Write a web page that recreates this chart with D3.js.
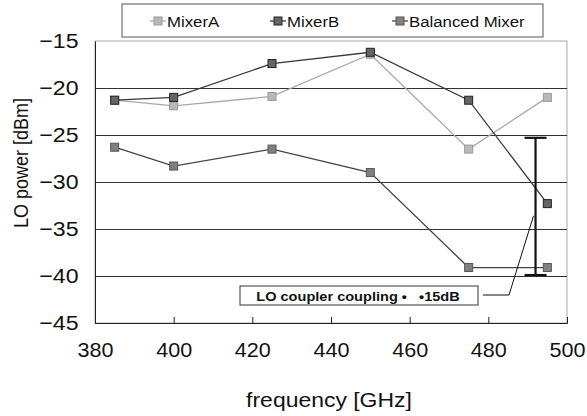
<!DOCTYPE html>
<html>
<head>
<meta charset="UTF-8">
<script src="https://d3js.org/d3.v7.min.js"></script>
<style>
  body { margin: 0; background: #fff; }
  svg { display: block; font-family: "Liberation Sans", Arial, sans-serif; }
</style>
</head>
<body>
<svg id="chart" width="587" height="416"></svg>
<script>
// data
const freqs = [385, 400, 425, 450, 475, 495];
const mixerA = [-21.3, -21.9, -20.9, -16.4, -26.5, -21.0];
const mixerB = [-21.3, -21.0, -17.4, -16.2, -21.3, -32.3];
const balanced = [-26.3, -28.3, -26.5, -29.0, -39.1, -39.1];
const xTicks = [380, 400, 420, 440, 460, 480, 500];
const yTicks = [-15, -20, -25, -30, -35, -40, -45];
const couplerRange = { freq: 492, top: -25.3, bottom: -39.9 };

const series = [
  { name: "MixerA", values: mixerA, line: "#a8a8a8", fill: "#b8b8b8", stroke: "#999" },
  { name: "MixerB", values: mixerB, line: "#3a3a3a", fill: "#666", stroke: "#222" },
  { name: "Balanced Mixer", values: balanced, line: "#444", fill: "#808080", stroke: "#555" }
];

// the scan is a bit wider than tall, so text gets a small horizontal stretch
const stretch = 1.12;

const svg = d3.select("#chart");
const plotL = 95, plotR = 567, plotT = 41, plotB = 323;

const x = d3.scaleLinear().domain([380, 500]).range([plotL, plotR]);
const y = d3.scaleLinear().domain([-45, -15]).range([plotB, plotT]);

// plot frame
svg.append("rect").attr("x", plotL).attr("y", plotT)
  .attr("width", plotR - plotL).attr("height", plotB - plotT)
  .attr("fill", "none").attr("stroke", "#aaa").attr("stroke-width", 1);

// horizontal gridlines
svg.append("g").selectAll("line")
  .data(yTicks.filter(d => d > -45 && d < -15))
  .join("line")
  .attr("x1", plotL).attr("x2", plotR)
  .attr("y1", d => y(d) + 0.5).attr("y2", d => y(d) + 0.5)
  .attr("stroke", "#333").attr("stroke-width", 1);

// axes
svg.append("g")
  .attr("transform", `translate(0,${plotB})`)
  .call(d3.axisBottom(x).tickValues(xTicks).tickSize(-6).tickPadding(20).tickFormat(d3.format("d")))
  .call(g => g.select(".domain").attr("stroke", "#222"))
  .call(g => g.selectAll(".tick line").attr("stroke", "#222"))
  .call(g => g.selectAll("text").attr("font-size", 20).attr("fill", "#111")
    .attr("font-family", "Liberation Sans, Arial, sans-serif")
    .attr("transform", "scale(1.08,1)"));

svg.append("g")
  .attr("transform", `translate(${plotL},0)`)
  .call(d3.axisLeft(y).tickValues(yTicks).tickSize(0).tickPadding(15).tickFormat(d3.format("d")))
  .call(g => g.select(".domain").attr("stroke", "#222"))
  .call(g => g.selectAll("text").attr("font-size", 21).attr("fill", "#111")
    .attr("font-family", "Liberation Sans, Arial, sans-serif")
    .attr("transform", "scale(1.1,1)"));

// axis titles
svg.append("text")
  .attr("transform", `translate(329,407) scale(${stretch},1)`)
  .attr("text-anchor", "middle").attr("font-size", 20.5).attr("fill", "#111")
  .text("frequency [GHz]");
svg.append("text")
  .attr("transform", `translate(28,163) rotate(-90) scale(1,${stretch})`)
  .attr("text-anchor", "middle").attr("font-size", 18).attr("fill", "#111")
  .text("LO power [dBm]");

// lines and markers
const line = d3.line().x((d, i) => x(freqs[i])).y(d => y(d));
series.forEach(s => {
  svg.append("path").datum(s.values)
    .attr("d", line).attr("fill", "none")
    .attr("stroke", s.line).attr("stroke-width", 1.3);
  svg.append("g").selectAll("rect")
    .data(s.values).join("rect")
    .attr("x", (d, i) => x(freqs[i]) - 4).attr("y", d => y(d) - 4)
    .attr("width", 8).attr("height", 8)
    .attr("fill", s.fill).attr("stroke", s.stroke).attr("stroke-width", 1);
});

// coupler range bar
const cx = x(couplerRange.freq);
const bar = svg.append("g").attr("stroke", "#111").attr("stroke-width", 2.2);
bar.append("line").attr("x1", cx).attr("x2", cx)
  .attr("y1", y(couplerRange.top)).attr("y2", y(couplerRange.bottom));
[couplerRange.top, couplerRange.bottom].forEach(v => {
  bar.append("line").attr("x1", cx - 11).attr("x2", cx + 11)
    .attr("y1", y(v)).attr("y2", y(v));
});

// annotation box + leader
svg.append("rect").attr("x", 240).attr("y", 286).attr("width", 238).attr("height", 19)
  .attr("fill", "#fff").attr("stroke", "#333").attr("stroke-width", 1);
svg.append("text")
  .attr("transform", `translate(358,301) scale(${stretch},1)`)
  .attr("text-anchor", "middle").attr("font-size", 13).attr("font-weight", "bold")
  .attr("fill", "#111").text("LO coupler coupling \u2022\u00a0\u00a0\u00a0\u202215dB");
svg.append("polyline")
  .attr("points", `483,295 509,295 ${cx - 2},${y(-33.6)}`)
  .attr("fill", "none").attr("stroke", "#111").attr("stroke-width", 1);

// legend
svg.append("rect").attr("x", 122).attr("y", 4).attr("width", 421).attr("height", 33)
  .attr("fill", "#fff").attr("stroke", "#555").attr("stroke-width", 1);
const legendX = [150, 270, 392];
series.forEach((s, i) => {
  const g = svg.append("g").attr("transform", `translate(${legendX[i]},21)`);
  g.append("line").attr("x1", 0).attr("x2", 16).attr("stroke", s.line).attr("stroke-width", 1.3);
  g.append("rect").attr("x", 4).attr("y", -4).attr("width", 8).attr("height", 8)
    .attr("fill", s.fill).attr("stroke", s.stroke);
  g.append("text").attr("transform", `translate(17,5.5) scale(${stretch},1)`)
    .attr("font-size", 15).attr("fill", "#111")
    .text(s.name);
});
</script>
</body>
</html>
